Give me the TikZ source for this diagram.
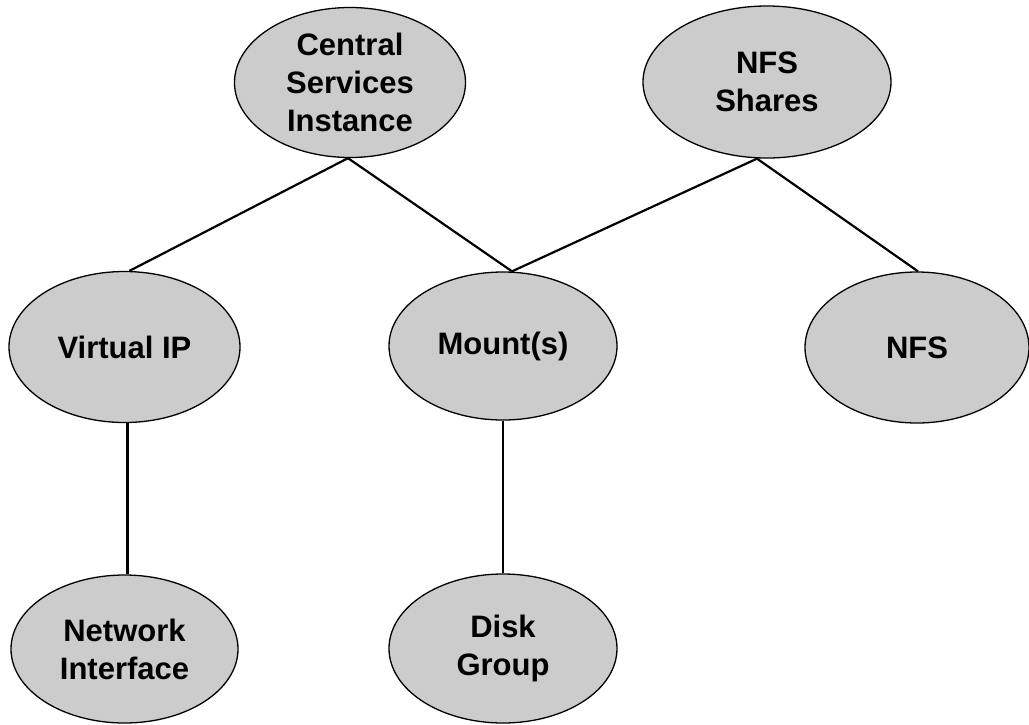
\documentclass[tikz,border=0pt]{standalone}
\usepackage{fontspec}
\setmainfont{Liberation Sans}
\usetikzlibrary{shapes.geometric}
\definecolor{nodegray}{RGB}{204,204,204}
\begin{document}
\begin{tikzpicture}[x=1pt,y=1pt,
  res/.style={ellipse, draw=black, line width=1.3pt, fill=nodegray, inner sep=0pt,
    align=center, font=\fontsize{31}{38}\selectfont\bfseries},
  link/.style={draw=black, line width=2.2pt}]
\useasboundingbox (0,0) rectangle (1029,-724);
\node[res, minimum width=231, minimum height=150] (cs) at (350,-82.5) {Central\\Services\\Instance};
\node[res, minimum width=248, minimum height=152] (nfss) at (767,-82) {NFS\\Shares};
\node[res, minimum width=231, minimum height=151] (vip) at (124.5,-347) {Virtual IP};
\node[res, minimum width=228, minimum height=148] (mnt) at (503,-346) {Mount(s)};
\node[res, minimum width=224, minimum height=151] (nfs) at (917,-347.5) {NFS};
\node[res, minimum width=227, minimum height=148] (ni) at (124.5,-649) {Network\\Interface};
\node[res, minimum width=228, minimum height=149] (dg) at (503,-648.5) {Disk\\Group};
\draw[link] ([xshift=-2pt]cs.south) -- ([xshift=5pt]vip.north);
\draw[link] ([xshift=-2pt]cs.south) -- ([xshift=9pt]mnt.north);
\draw[link] ([xshift=-10pt]nfss.south) -- ([xshift=9pt]mnt.north);
\draw[link] ([xshift=-10pt]nfss.south) -- ([xshift=1pt]nfs.north);
\draw[link] ([xshift=3pt]vip.south) -- ([xshift=3pt]ni.north);
\draw[link] (mnt.south) -- (dg.north);
\end{tikzpicture}
\end{document}
